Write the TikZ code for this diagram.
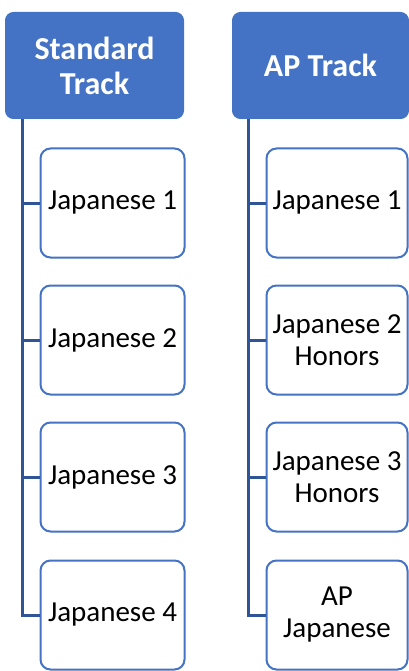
\documentclass[tikz,border=0pt]{standalone}
\usepackage{fontspec}
\setmainfont{Carlito}
\definecolor{hdr}{HTML}{4472C4}
\definecolor{conn}{HTML}{2F5597}
\begin{document}
\begin{tikzpicture}[x=1pt,y=-1pt,
  header/.style={draw=hdr,fill=hdr,rounded corners=8pt,line width=1pt,
    minimum width=178pt,minimum height=106pt,anchor=north west,inner sep=0pt,
    text=white,font=\fontsize{32}{35}\selectfont\bfseries,align=center},
  course/.style={draw=hdr,fill=white,rounded corners=10pt,line width=2pt,
    minimum width=144pt,minimum height=109pt,inner sep=0pt,
    text=black,font=\fontsize{29}{32}\selectfont,align=center},
  conline/.style={draw=conn,line width=3pt}]
\useasboundingbox (0,0) rectangle (409,671);
\node[header] (hs) at (5,12) {Standard\\Track};
\node[header,minimum width=176pt] (ha) at (232,12) {AP Track};
\node[course] (s1) at (112.5,203) {Japanese 1};
\node[course] (s2) at (112.5,340) {Japanese 2};
\node[course] (s3) at (112.5,477) {Japanese 3};
\node[course] (s4) at (112.5,615) {Japanese 4};
\node[course,minimum width=141pt] (a1) at (337,203) {Japanese 1};
\node[course,minimum width=141pt] (a2) at (337,340) {Japanese 2\\Honors};
\node[course,minimum width=141pt] (a3) at (337,477) {Japanese 3\\Honors};
\node[course,minimum width=141pt] (a4) at (337,615) {AP\\Japanese};
\coordinate (st) at (hs.south -| 22,0);
\coordinate (at) at (ha.south -| 248,0);
\draw[conline] (st) -- (st |- s4.west) -- (s4.west);
\draw[conline] (st |- s1.west) -- (s1.west);
\draw[conline] (st |- s2.west) -- (s2.west);
\draw[conline] (st |- s3.west) -- (s3.west);
\draw[conline] (at) -- (at |- a4.west) -- (a4.west);
\draw[conline] (at |- a1.west) -- (a1.west);
\draw[conline] (at |- a2.west) -- (a2.west);
\draw[conline] (at |- a3.west) -- (a3.west);
\end{tikzpicture}
\end{document}
